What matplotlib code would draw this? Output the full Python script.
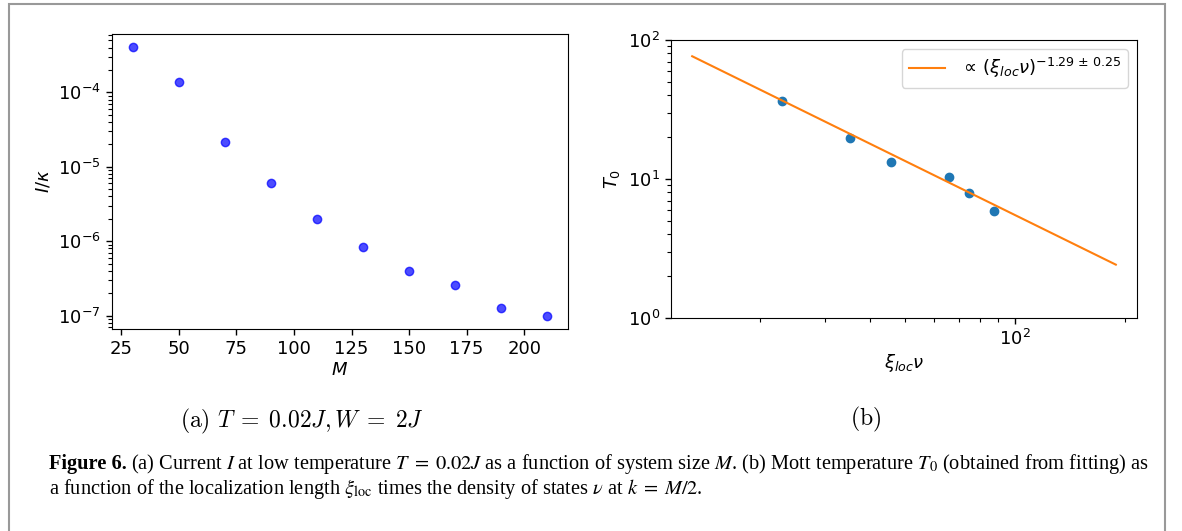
import numpy as np
import matplotlib
matplotlib.use("Agg")
import matplotlib.pyplot as plt
from matplotlib.patches import Rectangle

# (a) current vs system size
M = [30, 50, 70, 90, 110, 130, 150, 170, 190, 210]
I_kappa = [4.03e-4, 1.38e-4, 2.17e-5, 5.98e-6, 1.96e-6, 8.4e-7, 3.98e-7, 2.55e-7, 1.25e-7, 1.0e-7]
m_ticks = [25, 50, 75, 100, 125, 150, 175, 200]

# (b) Mott temperature vs xi_loc * nu
xi_nu = [23.0, 35.2, 45.7, 66.0, 74.8, 87.5]
T0 = [36.6, 19.8, 13.2, 10.4, 7.96, 5.84]
# fitted power law, end points of the plotted line
fit_x = [13.0, 189.0]
fit_y = [76.4, 2.42]

W, H = 1182, 531
fig = plt.figure(figsize=(W / 100, H / 100), dpi=100)
plt.rcParams['font.size'] = 13

ax1 = fig.add_axes([112 / W, 1 - 329 / H, 456 / W, 295 / H])
ax1.semilogy(M, I_kappa, 'bo', alpha=0.7)
ax1.set_xticks(m_ticks)
ax1.set_xlabel(r'$M$', fontsize=13, labelpad=2)
ax1.set_ylabel(r'$I/\kappa$', fontsize=13)

ax2 = fig.add_axes([671 / W, 1 - 318 / H, 466 / W, 278 / H])
ax2.scatter(xi_nu, T0)
ax2.plot(fit_x, fit_y, color='C1', label=r'$\propto\,(\xi_{loc}\nu)^{-1.29\,\pm\,0.25}$')
ax2.set_xscale('log')
ax2.set_yscale('log')
ax2.set_ylim(1, 100)
ax2.set_xlabel(r'$\xi_{loc}\nu$', fontsize=13, labelpad=2)
ax2.set_ylabel(r'$T_0$', fontsize=13)
ax2.legend(loc='upper right', fontsize=13)

for ax in (ax1, ax2):
    ax.tick_params(labelsize=13, length=4.5, width=1)
    ax.tick_params(which='minor', length=2.6, width=0.8)

# sub captions
fig.text(302 / W, 1 - 421 / H, r'$\mathrm{(a)}\ T\;=\;0.02J,W\;=\;2J$', ha='center', va='center',
         fontsize=17, math_fontfamily='cm')
fig.text(866 / W, 1 - 419 / H, r'$\mathrm{(b)}$', ha='center', va='center',
         fontsize=17, math_fontfamily='cm')

# figure caption
cap_font = dict(family='Liberation Serif', fontsize=14.7, math_fontfamily='stix')
line1 = (r'(a) Current $I$ at low temperature $T\;=\;0.02J$ as a function of system size $M$. '
         r'(b) Mott temperature $T_0$ (obtained from fitting) as')
line2 = (r'a function of the localization length $\xi_{\mathrm{loc}}$ times the density of states '
         r'$\nu$ at $k\;=\;M/2$.')
t_bold = fig.text(49 / W, 1 - 469 / H, 'Figure 6.', va='baseline', fontweight='bold', **cap_font)
fig.canvas.draw()
bb = t_bold.get_window_extent()
fig.text((bb.x1 + 4) / W, 1 - 469 / H, line1, va='baseline', **cap_font)
fig.text(49 / W, 1 - 494 / H, line2, va='baseline', **cap_font)

# grey frame around the figure
fig.add_artist(Rectangle((9 / W, -0.1), (1165 - 9) / W, 1.1 - 4 / H, transform=fig.transFigure,
                         fill=False, edgecolor='#999999', linewidth=1.5, clip_on=False))

fig.savefig('out.png', dpi=100)
